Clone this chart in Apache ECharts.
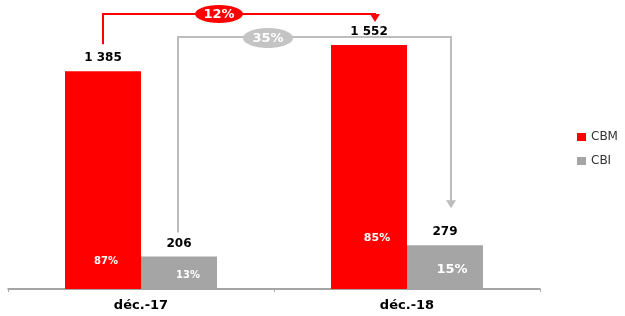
<!DOCTYPE html>
<html>
<head>
<meta charset="utf-8">
<script src="https://cdn.jsdelivr.net/npm/echarts@6/dist/echarts.min.js"></script>
<style>
  html, body { margin: 0; padding: 0; background: #fff; }
  #main { width: 625px; height: 316px; }
</style>
</head>
<body>
<div id="main"></div>
<script>
var categories = ['déc.-17', 'déc.-18'];
var cbm = [1385, 1552];
var cbi = [206, 279];
var cbmShare = ['87%', '85%'];
var cbiShare = ['13%', '15%'];
var growthCbm = '12%';
var growthCbi = '35%';

var FONT = '"DejaVu Sans", Verdana, sans-serif';

function fmt(v) {
    return String(v).replace(/\B(?=(\d{3})+(?!\d))/g, ' ');
}

var myChart = echarts.init(document.getElementById('main'));

var valueLabel = {
    show: true,
    position: 'top',
    distance: 7,
    color: '#000',
    fontWeight: 'bold',
    fontSize: 12,
    fontFamily: FONT,
    formatter: function (p) { return fmt(p.value); }
};

var option = {
    animation: false,
    grid: { left: 8, right: 85, top: 6, bottom: 27 },
    legend: {
        orient: 'vertical',
        left: 577,
        top: 131,
        padding: 0,
        itemWidth: 9,
        itemHeight: 8,
        itemGap: 12,
        icon: 'rect',
        textStyle: { color: '#333', fontSize: 12, fontFamily: FONT },
        data: ['CBM', 'CBI']
    },
    xAxis: {
        type: 'category',
        data: categories,
        axisLine: { lineStyle: { color: '#888', width: 1.5 } },
        axisTick: { show: true, length: 3, lineStyle: { color: '#aaa' } },
        axisLabel: { color: '#000', fontWeight: 'bold', fontSize: 13, fontFamily: FONT, margin: 10 }
    },
    yAxis: { type: 'value', min: 0, max: 1800, show: false, splitLine: { show: false } },
    series: [
        { name: 'CBM', type: 'bar', data: cbm, barWidth: 76, barGap: '0%',
          itemStyle: { color: '#ff0000' }, label: valueLabel },
        { name: 'CBI', type: 'bar', data: cbi, barWidth: 76, barGap: '0%',
          itemStyle: { color: '#a5a5a5' }, label: valueLabel }
    ]
};
myChart.setOption(option);

function barLayout(s, i) {
    return myChart.getModel().getSeriesByIndex(s).getData().getItemLayout(i);
}
function midX(l) { return l.x + l.width / 2; }
function topY(l) { return Math.min(l.y, l.y + l.height); }
function baseY(l) { return Math.max(l.y, l.y + l.height); }

// share labels inside bars: [dx, height above base, font size]
var shareLayout = [
    [[3, 28, 10], [8, 51, 11]],
    [[9, 14, 10], [7, 19, 13]]
];
var shares = [cbmShare, cbiShare];
var g = [];
for (var s = 0; s < 2; s++) {
    for (var i = 0; i < 2; i++) {
        var l = barLayout(s, i), sl = shareLayout[s][i];
        g.push({
            type: 'text', z: 100, x: midX(l) + sl[0], y: baseY(l) - sl[1],
            style: { text: shares[s][i], fill: '#fff', font: 'bold ' + sl[2] + 'px ' + FONT,
                     align: 'center', verticalAlign: 'middle' }
        });
    }
}

function bracket(x1, y1, yh, x2, y2, color, w) {
    g.push({ type: 'polyline', z: 100, shape: { points: [[x1, y1], [x1, yh], [x2, yh], [x2, y2 - 7]] },
             style: { stroke: color, lineWidth: w, fill: null } });
    g.push({ type: 'polygon', z: 100, shape: { points: [[x2 - 5, y2 - 8], [x2 + 5, y2 - 8], [x2, y2]] },
             style: { fill: color } });
}
function badge(x, y, rx, ry, color, text) {
    g.push({ type: 'ellipse', z: 101, shape: { cx: x, cy: y, rx: rx, ry: ry }, style: { fill: color } });
    g.push({ type: 'text', z: 102, x: x, y: y + 1,
             style: { text: text, fill: '#fff', font: 'bold 13px ' + FONT, align: 'center', verticalAlign: 'middle' } });
}

var a0 = barLayout(0, 0), a1 = barLayout(0, 1), b0 = barLayout(1, 0), b1 = barLayout(1, 1);
bracket(midX(a0), topY(a0) - 27, 14, midX(a1) + 6, topY(a1) - 23, '#ff0000', 2);
bracket(midX(b0) - 1, topY(b0) - 24, 37, midX(b1) + 6, topY(b1) - 37, '#bdbdbd', 2);
badge(219, 14, 24, 9, '#ff0000', growthCbm);
badge(268, 38, 25, 10, '#c4c4c4', growthCbi);

myChart.setOption({ graphic: g });
</script>
</body>
</html>
